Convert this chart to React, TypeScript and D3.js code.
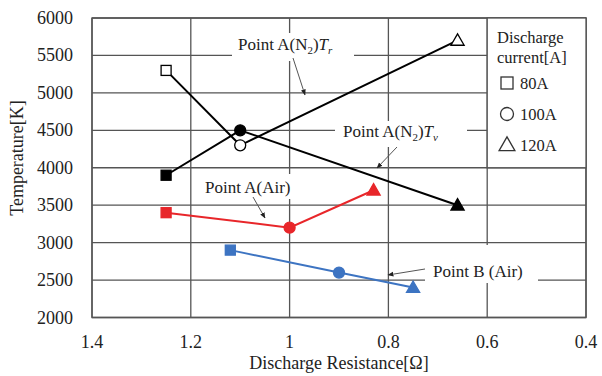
import React from "react";
import * as d3 from "d3";

const xTicks = [1.4, 1.2, 1.0, 0.8, 0.6, 0.4];
const xTickLabels = ["1.4", "1.2", "1", "0.8", "0.6", "0.4"];
const yTicks = [2000, 2500, 3000, 3500, 4000, 4500, 5000, 5500, 6000];

const markerShapes = ["square", "circle", "triangle"];
const legendLabels = ["80A", "100A", "120A"];

const trX = [1.25, 1.1, 0.66];
const trY = [5300, 4300, 5700];
const tvX = [1.25, 1.1, 0.66];
const tvY = [3900, 4500, 3500];
const airAX = [1.25, 1.0, 0.83];
const airAY = [3400, 3200, 3700];
const airBX = [1.12, 0.9, 0.75];
const airBY = [2900, 2600, 2400];

const FONT = '"Liberation Serif", "Times New Roman", serif';
const GRID = "#555";
const RED = "#e8262a";
const BLUE = "#3d74c2";

const L = 92, R = 586, T = 18, B = 317.5;

function Marker({ shape, cx, cy, fill, stroke, size }: any) {
  if (shape === "square") {
    return <rect x={cx - size / 2} y={cy - size / 2} width={size} height={size} fill={fill} stroke={stroke} strokeWidth={1.3} />;
  }
  if (shape === "circle") {
    return <circle cx={cx} cy={cy} r={size / 2 + 0.5} fill={fill} stroke={stroke} strokeWidth={1.3} />;
  }
  const s = d3.symbol().type(d3.symbolTriangle).size(size * size * 0.75)();
  return <path d={s || ""} transform={`translate(${cx},${cy + 1})`} fill={fill} stroke={stroke} strokeWidth={1.3} strokeLinejoin="miter" />;
}

export default function App() {
  const x = d3.scaleLinear().domain([1.4, 0.4]).range([L, R]);
  const y = d3.scaleLinear().domain([2000, 6000]).range([B, T]);
  const line = d3.line<[number, number]>().x((d) => x(d[0])).y((d) => y(d[1]));

  const series = [
    { xs: trX, ys: trY, color: "#000", fill: "#fff", size: 10 },
    { xs: tvX, ys: tvY, color: "#000", fill: "#000", size: 10 },
    { xs: airAX, ys: airAY, color: RED, fill: RED, size: 10 },
    { xs: airBX, ys: airBY, color: BLUE, fill: BLUE, size: 10 },
  ];

  return (
    <svg width={602} height={376} style={{ position: "absolute", left: 0, top: 0, background: "#fff" }} fontFamily={FONT}>
      <defs>
        <marker id="ah" viewBox="0 0 10 10" refX="9" refY="5" markerWidth="6" markerHeight="6" orient="auto">
          <path d="M0,1 L10,5 L0,9 z" fill="#222" />
        </marker>
      </defs>
      <rect x={0} y={0} width={602} height={376} fill="#fff" />
      {/* grid */}
      {yTicks.map((t) => (
        <line key={"gy" + t} x1={L} x2={R} y1={y(t)} y2={y(t)} stroke={GRID} strokeWidth={1.3} />
      ))}
      {xTicks.map((t) => (
        <line key={"gx" + t} x1={x(t)} x2={x(t)} y1={T} y2={B} stroke={GRID} strokeWidth={1.3} />
      ))}
      <rect x={L} y={T} width={R - L} height={B - T} fill="none" stroke={GRID} strokeWidth={1.4} />

      {/* tick labels */}
      {yTicks.map((t) => (
        <text key={"ty" + t} x={73} y={y(t) + 6} textAnchor="end" fontSize={18} fill="#222">{t}</text>
      ))}
      {xTicks.map((t, i) => (
        <text key={"tx" + t} x={x(t)} y={348} textAnchor="middle" fontSize={18} fill="#222">{xTickLabels[i]}</text>
      ))}
      <text x={339} y={369} textAnchor="middle" fontSize={18} fill="#222">Discharge Resistance[Ω]</text>
      <text transform="translate(23,158) rotate(-90)" textAnchor="middle" fontSize={18} fill="#222">Temperature[K]</text>

      {/* annotation boxes */}
      <rect x={232} y={33} width={122} height={28} fill="#fff" />
      <rect x={335} y={121} width={132} height={26} fill="#fff" />
      <rect x={200} y={174} width={102} height={25} fill="#fff" />
      <rect x={425} y={245} width={113} height={38} fill="#fff" />

      {/* legend box */}
      <rect x={x(0.6)} y={T} width={R - x(0.6)} height={y(4000) - T} fill="#fff" stroke={GRID} strokeWidth={1.3} />
      <text x={497} y={43} fontSize={16.5} fill="#222">Discharge</text>
      <text x={497} y={63} fontSize={16.5} fill="#222">current[A]</text>
      {markerShapes.map((s, i) => (
        <g key={"lg" + s}>
          <Marker shape={s} cx={507} cy={83 + i * 31} fill="#fff" stroke="#333" size={12} />
          <text x={520} y={89 + i * 31} fontSize={16.5} fill="#222">{legendLabels[i]}</text>
        </g>
      ))}

      {/* series lines */}
      {series.map((s, i) => (
        <path key={"l" + i} d={line(s.xs.map((v, j) => [v, s.ys[j]]) as any) || ""} fill="none" stroke={s.color} strokeWidth={2} />
      ))}
      {series.map((s, i) =>
        s.xs.map((v, j) => (
          <Marker key={"m" + i + "-" + j} shape={markerShapes[j]} cx={x(v)} cy={y(s.ys[j])} fill={s.fill} stroke={s.color} size={s.size} />
        ))
      )}

      {/* annotations */}
      <text x={238} y={50} fontSize={17} fill="#222">
        Point A(N<tspan fontSize={11} dy={4}>2</tspan><tspan dy={-4}>)</tspan><tspan fontStyle="italic">T</tspan><tspan fontStyle="italic" fontSize={11} dy={4}>r</tspan>
      </text>
      <line x1={293} y1={58} x2={305} y2={95} stroke="#555" strokeWidth={1} markerEnd="url(#ah)" />

      <text x={343} y={137} fontSize={17} fill="#222">
        Point A(N<tspan fontSize={11} dy={4}>2</tspan><tspan dy={-4}>)</tspan><tspan fontStyle="italic">T</tspan><tspan fontStyle="italic" fontSize={11} dy={4}>v</tspan>
      </text>
      <line x1={397} y1={147} x2={377} y2={168} stroke="#555" strokeWidth={1} markerEnd="url(#ah)" />

      <text x={205} y={193} fontSize={17} fill="#222">Point A(Air)</text>
      <line x1={253} y1={197} x2={265} y2={218} stroke="#555" strokeWidth={1} markerEnd="url(#ah)" />

      <text x={433} y={277} fontSize={17} fill="#222">Point B (Air)</text>
      <line x1={425} y1={269} x2={388} y2={275} stroke="#555" strokeWidth={1} markerEnd="url(#ah)" />
    </svg>
  );
}
